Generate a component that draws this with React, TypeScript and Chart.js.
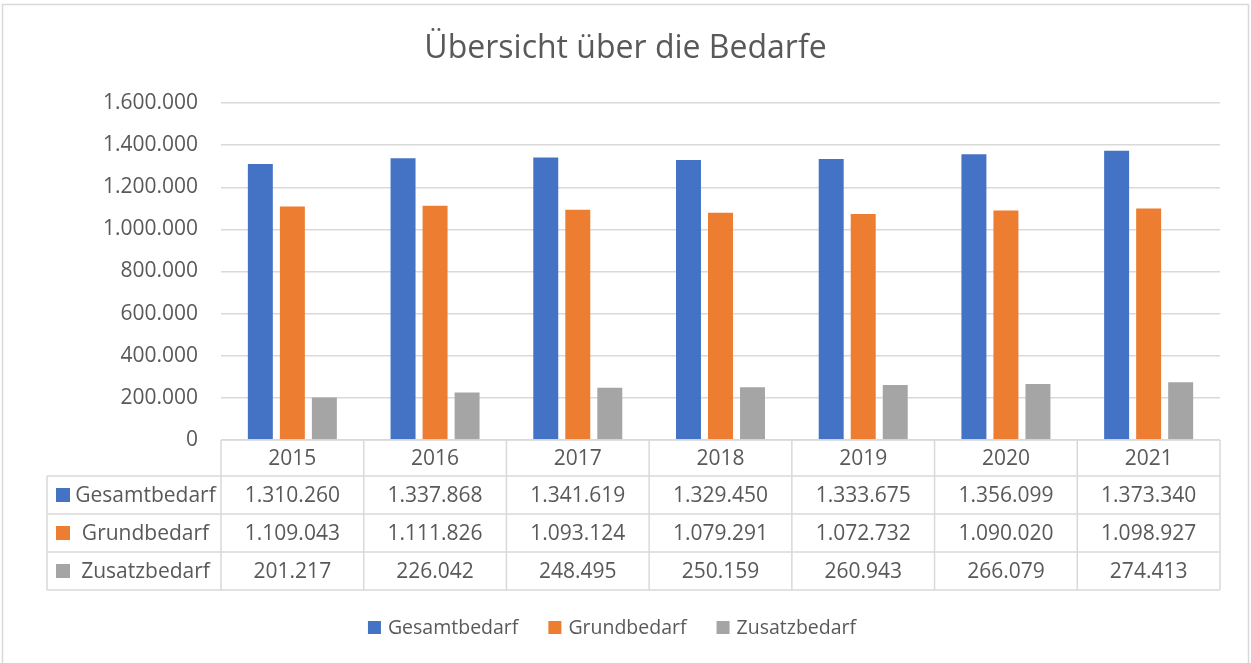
import React, { useEffect, useRef } from "react";
import { Chart, registerables } from "chart.js";

Chart.register(...registerables);

const chartTitle = "Übersicht über die Bedarfe";
const categories = ["2015", "2016", "2017", "2018", "2019", "2020", "2021"];
const seriesNames = ["Gesamtbedarf", "Grundbedarf", "Zusatzbedarf"];
const gesamtbedarf = [1310260, 1337868, 1341619, 1329450, 1333675, 1356099, 1373340];
const grundbedarf = [1109043, 1111826, 1093124, 1079291, 1072732, 1090020, 1098927];
const zusatzbedarf = [201217, 226042, 248495, 250159, 260943, 266079, 274413];
const seriesColors = ["#4472C4", "#ED7D31", "#A5A5A5"];
const yMin = 0;
const yMax = 1600000;
const yStep = 200000;

const FONT = "'Open Sans', 'Noto Sans', sans-serif";
const TEXT = "#595959";
const LINE = "#D9D9D9";

const fmt = (v: number) => String(Math.round(v)).replace(/\B(?=(\d{3})+(?!\d))/g, ".");

const seriesValues = [gesamtbedarf, grundbedarf, zusatzbedarf];

const decorPlugin = {
  id: "decor",
  beforeDraw(chart: any) {
    const { ctx, width, height } = chart;
    ctx.save();
    ctx.fillStyle = "#FFFFFF";
    ctx.fillRect(0, 0, width, height);
    ctx.strokeStyle = LINE;
    ctx.lineWidth = 1.5;
    ctx.strokeRect(2.5, 4.5, width - 5, height + 10);
    ctx.restore();
  },
  afterDraw(chart: any) {
    const { ctx, chartArea, width } = chart;
    const n = categories.length;
    const colW = (chartArea.right - chartArea.left) / n;
    const top = chartArea.bottom;
    const headerH = 36;
    const rowH = 38;
    const tableLeft = 47;
    const rowsTop = top + headerH;
    const bottom = rowsTop + rowH * seriesNames.length;

    ctx.save();
    // title
    ctx.fillStyle = TEXT;
    ctx.font = `32px ${FONT}`;
    ctx.textAlign = "center";
    ctx.textBaseline = "middle";
    ctx.fillText(chartTitle, width / 2, 49);

    // table lines
    ctx.strokeStyle = LINE;
    ctx.lineWidth = 1.5;
    ctx.beginPath();
    ctx.moveTo(chartArea.left, top);
    ctx.lineTo(chartArea.right, top);
    for (let r = 0; r <= seriesNames.length; r++) {
      const y = rowsTop + r * rowH;
      ctx.moveTo(tableLeft, y);
      ctx.lineTo(chartArea.right, y);
    }
    ctx.moveTo(tableLeft, rowsTop);
    ctx.lineTo(tableLeft, bottom);
    for (let i = 0; i <= n; i++) {
      const x = chartArea.left + i * colW;
      ctx.moveTo(x, top);
      ctx.lineTo(x, bottom);
    }
    ctx.stroke();

    // header
    ctx.fillStyle = TEXT;
    ctx.font = `21px ${FONT}`;
    ctx.textAlign = "center";
    ctx.textBaseline = "middle";
    categories.forEach((c, i) => {
      const x = chart.scales.x.getPixelForValue(i);
      ctx.fillText(c, x, top + headerH / 2 + 1);
    });

    // rows
    seriesNames.forEach((name, r) => {
      const cy = rowsTop + r * rowH + rowH / 2 + 1;
      ctx.fillStyle = seriesColors[r];
      ctx.fillRect(56, cy - 8, 14, 14);
      ctx.fillStyle = TEXT;
      ctx.textAlign = "center";
      ctx.fillText(name, (70 + chartArea.left) / 2, cy);
      seriesValues[r].forEach((v, i) => {
        const x = chart.scales.x.getPixelForValue(i);
        ctx.fillText(fmt(v), x, cy);
      });
    });

    // legend
    ctx.font = `19.5px ${FONT}`;
    ctx.textAlign = "left";
    const sq = 13;
    const gap = 7;
    const itemGap = 30;
    const widths = seriesNames.map((s) => ctx.measureText(s).width);
    const total = widths.reduce((a, b) => a + b, 0) + seriesNames.length * (sq + gap) + itemGap * (seriesNames.length - 1);
    let x = 612 - total / 2;
    const ly = 628;
    seriesNames.forEach((s, i) => {
      ctx.fillStyle = seriesColors[i];
      ctx.fillRect(x, ly - 7, sq, sq);
      x += sq + gap;
      ctx.fillStyle = TEXT;
      ctx.fillText(s, x, ly);
      x += widths[i] + itemGap;
    });
    ctx.restore();
  },
};

export default function App() {
  const ref = useRef<HTMLCanvasElement | null>(null);
  useEffect(() => {
    document.body.style.margin = "0";
    if (!ref.current) return;
    const chart = new Chart(ref.current, {
      type: "bar",
      data: {
        labels: categories,
        datasets: seriesNames.map((name, i) => ({
          label: name,
          data: seriesValues[i],
          backgroundColor: seriesColors[i],
          borderWidth: 0,
          categoryPercentage: 0.673,
          barPercentage: 0.78,
        })),
      },
      options: {
        responsive: false,
        animation: false,
        layout: { padding: { top: 103, right: 31, bottom: 223, left: 0 } },
        plugins: {
          legend: { display: false },
          title: { display: false },
          tooltip: { enabled: false },
        },
        scales: {
          x: { display: false },
          y: {
            min: yMin,
            max: yMax,
            border: { display: false },
            grid: { color: LINE, lineWidth: 1.5, drawTicks: false },
            ticks: {
              stepSize: yStep,
              padding: 23,
              color: TEXT,
              font: { family: FONT, size: 21 },
              callback: (v: any) => fmt(Number(v)),
            },
            afterFit: (scale: any) => {
              scale.width = 221;
            },
          },
        },
      },
      plugins: [decorPlugin],
    });
    return () => chart.destroy();
  }, []);
  return <canvas ref={ref} width={1251} height={663} style={{ display: "block" }} />;
}
